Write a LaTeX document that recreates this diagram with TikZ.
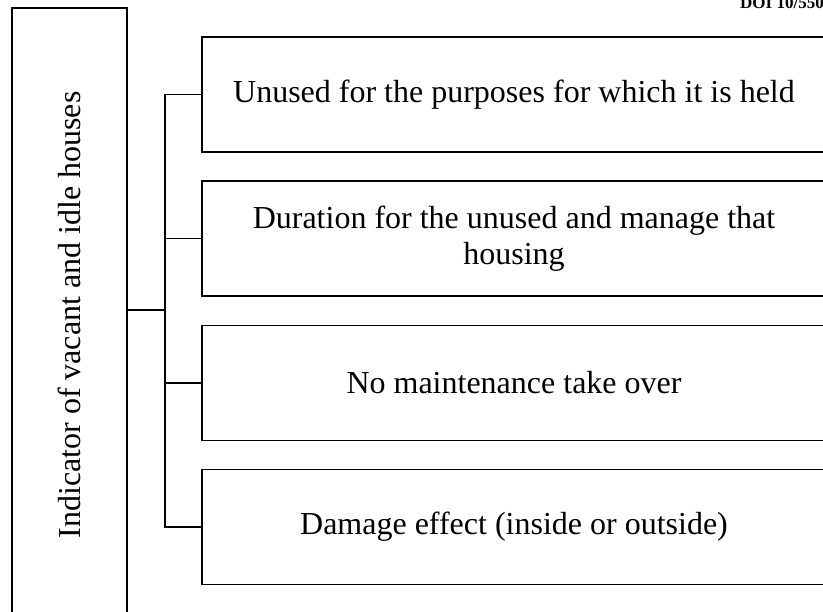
\documentclass[tikz,border=0pt]{standalone}
\usepackage{fontspec}
\setmainfont{Liberation Serif}
\begin{document}
\begin{tikzpicture}[x=1pt,y=-1pt]
    % Define basic node styles
    \tikzset{
        item/.style={
            rectangle,
            draw,
            line width=1.5pt,
            minimum width=624pt,
            minimum height=115pt,
            align=center,
            font=\fontsize{32}{36}\selectfont
        },
        wire/.style={line width=1.5pt}
    }
    \useasboundingbox (0,0) rectangle (823,612);

    % Running head (cut at the page edge)
    \node[anchor=base west, font=\bfseries\fontsize{17}{19}\selectfont, inner sep=0pt] (head) at (740,9) {DOI 10/550};

    % Main indicator
    \node[rectangle, draw, line width=1.5pt, minimum width=115pt, minimum height=614pt,
          font=\fontsize{32}{36}\selectfont] (indicator) at (69.5,315)
          {\rotatebox{90}{Indicator of vacant and idle houses}};

    % Indicator items
    \node[item] (unused) at (514,94.5) {Unused for the purposes for which it is held};
    \node[item] (duration) at (514,238.5) {Duration for the unused and manage that\\housing};
    \node[item] (maintain) at (514,383) {No maintenance take over};
    \node[item] (damage) at (514,527) {Damage effect (inside or outside)};

    % Connections
    \coordinate (junction) at (165,310);
    \draw[wire] (indicator.east |- junction) -- (junction);
    \draw[wire] (junction) |- (unused.west);
    \draw[wire] (junction) |- (duration.west);
    \draw[wire] (junction) |- (maintain.west);
    \draw[wire] (junction) |- (damage.west);
\end{tikzpicture}
\end{document}
